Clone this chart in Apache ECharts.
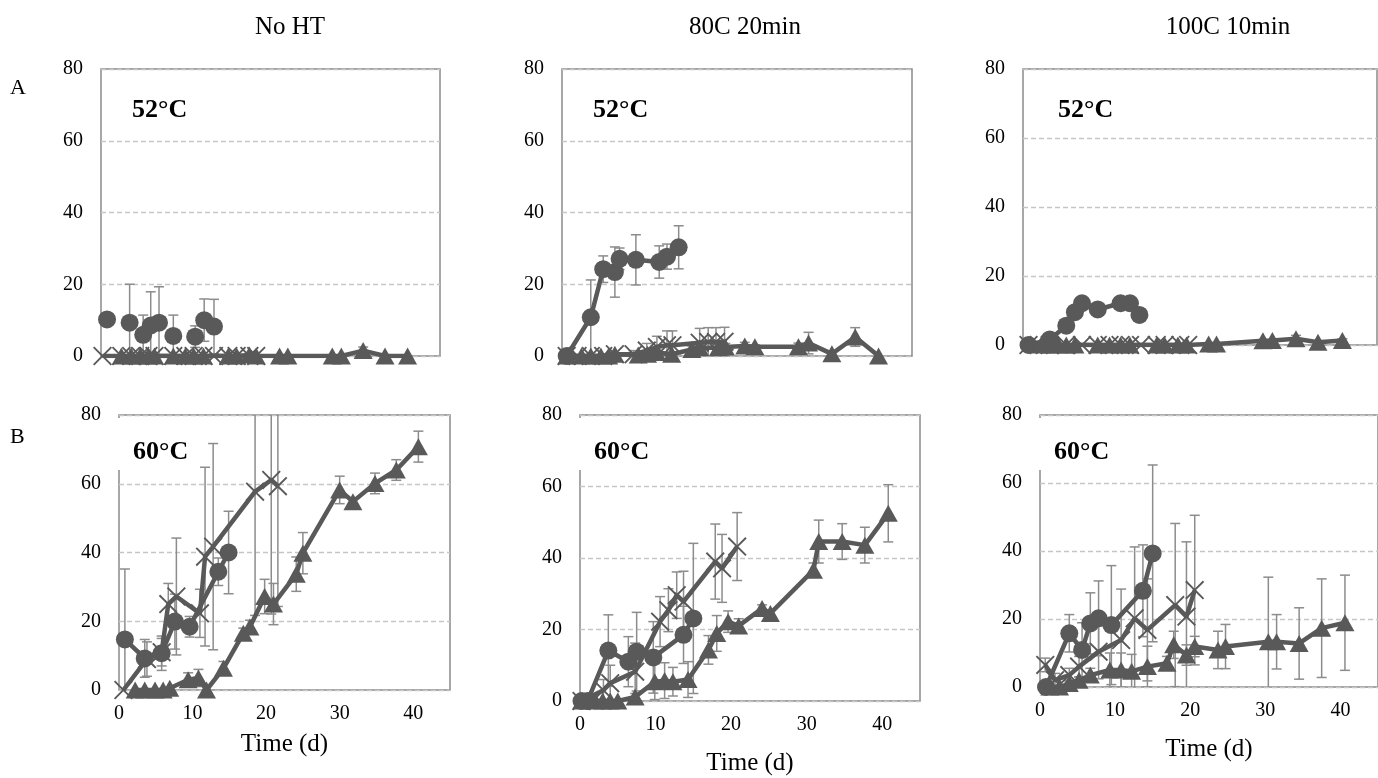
<!DOCTYPE html>
<html>
<head>
<meta charset="utf-8">
<script src="https://cdn.jsdelivr.net/npm/echarts@6/dist/echarts.min.js"></script>
<style>
  html, body { margin: 0; padding: 0; background: #fff; }
  #main { width: 1378px; height: 778px; }
</style>
</head>
<body>
<div id="main"></div>
<script>
// column / row headings
const colTitles = ['No HT', '80C 20min', '100C 10min']
const rowTitles = ['A', 'B']
const tempLabels = ['52°C', '60°C']
const yTicks = [0, 20, 40, 60, 80]
const xTicks = [0, 10, 20, 30, 40]

// ---- row A, No HT ----
const a1CircleDay = [0.8, 3.8, 5.6, 6.6, 7.7, 9.6, 12.5, 13.7, 15]
const a1CircleVal = [10.2, 9.3, 5.9, 8.5, 9.3, 5.6, 5.4, 10, 8.2]
const a1CircleErr = [0, 10.7, 5.5, 9.4, 10, 5.8, 3, 5.9, 7.6]
const a1CrossDay = [0.2, 2.7, 4, 5.2, 6.3, 7.1, 9.6, 11.2, 12.3, 13.6, 15, 16.9, 18, 19.7, 20.6]
const a1CrossVal = [0, 0, 0, 0, 0, 0, 0, 0, 0, 0, 0, 0, 0, 0, 0]
const a1CrossErr = [0, 0, 0, 0, 0, 0, 0, 0, 0, 0, 0, 0, 0, 0, 0]
const a1TriDay = [2.7, 4, 5.2, 6.3, 7.1, 9.6, 11.2, 12.3, 13.6, 16.9, 18, 19.7, 20.6, 23.7, 24.8, 30.7, 31.9, 34.8, 37.7, 40.7]
const a1TriVal = [0, 0, 0, 0, 0, 0, 0, 0, 0, 0, 0, 0.3, 0, 0, 0, 0, 0, 1.5, 0, 0]
const a1TriErr = [0, 0, 0, 0, 0, 0, 0, 0, 0, 0, 0, 0, 0, 0, 0, 0, 0, 1, 0, 0]

// ---- row A, 80C 20min ----
const a2CircleDay = [0.6, 3.7, 5.3, 6.8, 7.4, 9.5, 12.5, 13.5, 15]
const a2CircleVal = [0, 10.8, 24.2, 23.4, 27.1, 26.8, 26.2, 27.7, 30.3]
const a2CircleErr = [0, 10.4, 3.7, 7, 3, 7, 4.5, 3.5, 6]
const a2CrossDay = [0.6, 2, 3.7, 5.3, 6.8, 9.2, 10.9, 12.2, 13.5, 14.2, 17.7, 18.8, 19.8, 20.9]
const a2CrossVal = [0, 0, 0, 0, 0.5, 0.5, 1.5, 2.5, 3, 3, 3.7, 3.9, 3.9, 4]
const a2CrossErr = [0, 0, 0, 0, 0, 1, 2, 3, 4, 4, 4, 4, 4, 4]
const a2TriDay = [0.6, 2.5, 3.7, 5, 6, 6.8, 9.8, 11, 12.2, 14.1, 16.7, 17.7, 20.1, 21, 23.5, 24.8, 30.4, 31.7, 34.7, 37.7, 40.7]
const a2TriVal = [0, 0, 0, 0, 0, 0.5, 0.3, 0.5, 1, 0.5, 1.8, 2.3, 2.3, 2.5, 2.8, 2.6, 2.6, 3.6, 0.6, 5.3, 0]
const a2TriErr = [0, 0, 0, 0, 0, 0, 0, 0, 0, 0, 1, 1, 1, 1, 1, 0.5, 1, 3, 0, 2.6, 0]

// ---- row A, 100C 10min ----
const a3CircleDay = [0.7, 3.4, 5.5, 6.6, 7.5, 9.5, 12.4, 13.6, 14.8]
const a3CircleVal = [0, 1.6, 5.6, 9.5, 12.1, 10.3, 12.1, 12.1, 8.7]
const a3CircleErr = [0, 0, 0, 0, 0, 0, 0, 0, 0]
const a3CrossDay = [0.7, 2, 3.4, 5.5, 7.5, 9.5, 11, 12.4, 13.6, 15, 17, 18, 20, 21]
const a3CrossVal = [0, 0, 0, 0, 0, 0, 0, 0, 0, 0, 0, 0, 0, 0]
const a3CrossErr = [0, 0, 0, 0, 0, 0, 0, 0, 0, 0, 0, 0, 0, 0]
const a3TriDay = [2.3, 3.4, 4.5, 5.5, 6.6, 9.5, 11, 12.4, 13.6, 17, 18, 19.7, 20.8, 23.6, 24.6, 30.5, 31.7, 34.7, 37.5, 40.6]
const a3TriVal = [0, 0, 0, 0, 0, 0, 0, 0, 0, 0, 0, 0, 0, 0.3, 0.3, 1.2, 1.3, 1.8, 0.8, 1.3]
const a3TriErr = [0, 0, 0, 0, 0, 0, 0, 0, 0, 0, 0, 0, 0, 0, 0, 0, 0, 1, 0, 0.5]

// ---- row B, No HT ----
const b1CircleDay = [0.8, 3.5, 5.8, 7.6, 9.6, 13.5, 14.9]
const b1CircleVal = [14.7, 9.2, 10.7, 19.9, 18.4, 34.4, 40]
const b1CircleErr = [20.5, 5.5, 5, 8, 3, 4, 12]
const b1CrossDay = [0.6, 3.8, 5.8, 6.7, 7.8, 11, 11.7, 12.8, 18.5, 20.7, 21.6]
const b1CrossVal = [0, 9, 11, 25, 27.2, 22.3, 38.8, 41.7, 57.7, 61.1, 59.3]
const b1CrossErr = [0, 5, 4, 6, 17, 7, 26, 30, 36, 39, 35]
const b1TriDay = [2.2, 3.5, 4.9, 6, 6.9, 9.4, 10.8, 11.9, 14.2, 16.9, 17.8, 19.8, 21, 24.1, 25, 30, 31.8, 34.8, 37.7, 40.7]
const b1TriVal = [0, 0, 0, 0, 0.5, 3, 3.5, 0, 6.3, 16.5, 18.3, 27.2, 25, 33.7, 39.8, 58.2, 54.8, 60.1, 64, 70.8]
const b1TriErr = [0, 0, 0, 0, 0, 2, 2.5, 0, 2, 1.5, 2, 5, 6, 5, 6, 4, 1, 3, 3, 4.5]

// ---- row B, 80C 20min ----
const b2CircleDay = [0.2, 1, 3.75, 6.4, 7.5, 9.7, 13.7, 15]
const b2CircleVal = [0, 0, 14.1, 11, 13.8, 12.2, 18.5, 23.1]
const b2CircleErr = [0, 0, 10, 7, 11, 10, 8, 21]
const b2CrossDay = [0.2, 3.1, 4, 7.3, 10.6, 11.7, 12.8, 13.7, 17.9, 18.8, 20.8]
const b2CrossVal = [0, 3, 5, 8.2, 22.2, 25.4, 29.6, 27.8, 39, 37.1, 43.2]
const b2CrossErr = [0, 3, 5, 8, 7, 6, 6.5, 8.5, 10.5, 9.5, 9.5]
const b2TriDay = [0.2, 2, 3, 4, 5, 7.3, 9.9, 11.2, 12.3, 14.3, 17, 18.1, 19.6, 21, 24.1, 25.2, 30.9, 31.6, 34.7, 37.7, 40.8]
const b2TriVal = [0, 0, 0, 0, 0, 1.1, 5.4, 5.7, 5.4, 6, 14.3, 18.9, 22.2, 21, 25.9, 24.5, 36.6, 44.6, 44.6, 43.6, 52.5]
const b2TriErr = [0, 0, 0, 0, 0, 1, 5, 5, 4, 5, 4, 5, 3, 2, 1, 1, 2, 6, 5, 5, 8]

// ---- row B, 100C 10min ----
const b3CircleDay = [0.8, 3.9, 5.6, 6.7, 7.8, 9.5, 13.7, 15]
const b3CircleVal = [0, 15.8, 10.9, 18.7, 20.2, 18.2, 28.3, 39.3]
const b3CircleErr = [0, 5.5, 8, 9, 11, 17.5, 13.5, 26]
const b3CrossDay = [0.7, 2, 3.9, 5.2, 7.8, 10.8, 12.6, 14.3, 18, 19.5, 20.6]
const b3CrossVal = [6.5, 2, 3.5, 6, 10.4, 13.8, 20.2, 16.8, 24.1, 20.7, 28.5]
const b3CrossErr = [2, 2, 2, 3, 8, 15, 21, 15, 24, 22, 22]
const b3TriDay = [1.3, 2.6, 3.9, 5.2, 6.7, 9.3, 10.8, 12.2, 14.3, 16.9, 17.8, 19.5, 20.6, 23.7, 24.7, 30.4, 31.5, 34.5, 37.5, 40.6]
const b3TriVal = [0, 0, 1, 2, 3.5, 5, 5, 4.6, 6, 7, 12.4, 9.4, 11.9, 10.9, 11.9, 13.3, 13.3, 12.8, 17.3, 18.9]
const b3TriErr = [0, 0, 1, 1, 2, 5, 5, 5, 6, 2, 4, 3, 3, 5.5, 6.5, 19, 8, 10.5, 14.5, 14]

const panels = [
  { row: 0, col: 0, box: [101, 69, 339, 287], circleLine: false,
    circle: [a1CircleDay, a1CircleVal, a1CircleErr], cross: [a1CrossDay, a1CrossVal, a1CrossErr], tri: [a1TriDay, a1TriVal, a1TriErr] },
  { row: 0, col: 1, box: [562, 69, 350, 287], circleLine: true,
    circle: [a2CircleDay, a2CircleVal, a2CircleErr], cross: [a2CrossDay, a2CrossVal, a2CrossErr], tri: [a2TriDay, a2TriVal, a2TriErr] },
  { row: 0, col: 2, box: [1023, 69, 354, 276], circleLine: true,
    circle: [a3CircleDay, a3CircleVal, a3CircleErr], cross: [a3CrossDay, a3CrossVal, a3CrossErr], tri: [a3TriDay, a3TriVal, a3TriErr] },
  { row: 1, col: 0, box: [119, 415, 331, 275], circleLine: true, nameGap: 42,
    circle: [b1CircleDay, b1CircleVal, b1CircleErr], cross: [b1CrossDay, b1CrossVal, b1CrossErr], tri: [b1TriDay, b1TriVal, b1TriErr] },
  { row: 1, col: 1, box: [580, 415, 340, 286], circleLine: true, nameGap: 50,
    circle: [b2CircleDay, b2CircleVal, b2CircleErr], cross: [b2CrossDay, b2CrossVal, b2CrossErr], tri: [b2TriDay, b2TriVal, b2TriErr] },
  { row: 1, col: 2, box: [1040, 415, 346, 272], circleLine: true, nameGap: 50,
    circle: [b3CircleDay, b3CircleVal, b3CircleErr], cross: [b3CrossDay, b3CrossVal, b3CrossErr], tri: [b3TriDay, b3TriVal, b3TriErr] }
]

const FONT = "'Liberation Serif', 'Times New Roman', serif"
const DARK = '#595959'
const BAR = '#8c8c8c'
// thin filled X shape
const CROSS = 'path://M0,1.4L1.4,0L10,8.6L18.6,0L20,1.4L11.4,10L20,18.6L18.6,20L10,11.4L1.4,20L0,18.6L8.6,10Z'

const chart = echarts.init(document.getElementById('main'))

function errorBars (idx, s) {
  const data = []
  s[0].forEach((d, k) => {
    if (s[2][k] > 0) data.push([d, s[1][k] - s[2][k], s[1][k] + s[2][k]])
  })
  return {
    type: 'custom',
    xAxisIndex: idx,
    yAxisIndex: idx,
    clip: true,
    z: 1,
    silent: true,
    encode: { x: 0, y: [1, 2] },
    data: data,
    renderItem: function (params, api) {
      const lo = api.coord([api.value(0), api.value(1)])
      const hi = api.coord([api.value(0), api.value(2)])
      const w = 5
      const st = { stroke: BAR, lineWidth: 1.5 }
      return {
        type: 'group',
        children: [
          { type: 'line', shape: { x1: lo[0], y1: lo[1], x2: hi[0], y2: hi[1] }, style: st },
          { type: 'line', shape: { x1: hi[0] - w, y1: hi[1], x2: hi[0] + w, y2: hi[1] }, style: st },
          { type: 'line', shape: { x1: lo[0] - w, y1: lo[1], x2: lo[0] + w, y2: lo[1] }, style: st }
        ]
      }
    }
  }
}

function lineSeries (idx, s, symbol, size, z, withLine) {
  return {
    type: 'line',
    xAxisIndex: idx,
    yAxisIndex: idx,
    data: s[0].map((d, k) => [d, s[1][k]]),
    symbol: symbol,
    symbolSize: size,
    showAllSymbol: true,
    z: z,
    itemStyle: { color: DARK, borderWidth: 0 },
    lineStyle: { color: DARK, width: withLine ? 4.5 : 0 },
    emphasis: { disabled: true }
  }
}

const grids = []
const xAxes = []
const yAxes = []
const series = []

panels.forEach((p, i) => {
  grids.push({
    left: p.box[0], top: p.box[1], width: p.box[2], height: p.box[3],
    show: true, borderColor: '#8a8a8a', borderWidth: 1.5, containLabel: false
  })
  xAxes.push({
    gridIndex: i,
    type: 'value',
    min: 0,
    max: 45,
    interval: 10,
    axisLine: { show: false },
    axisTick: { show: false },
    splitLine: { show: false },
    axisLabel: { show: p.row === 1, showMaxLabel: false, fontFamily: FONT, fontSize: 20, color: '#000', margin: 14 },
    name: p.row === 1 ? 'Time (d)' : '',
    nameLocation: 'middle',
    nameGap: p.nameGap || 50,
    nameTextStyle: { fontFamily: FONT, fontSize: 25, color: '#000' }
  })
  yAxes.push({
    gridIndex: i,
    type: 'value',
    min: 0,
    max: 80,
    interval: 20,
    axisLine: { show: false },
    axisTick: { show: false },
    splitLine: { show: true, lineStyle: { color: '#c6c6c6', width: 1.3, type: [5, 3] } },
    axisLabel: { fontFamily: FONT, fontSize: 20, color: '#000', margin: 18 }
  })
  series.push(errorBars(i, p.circle), errorBars(i, p.cross), errorBars(i, p.tri))
  series.push(lineSeries(i, p.circle, 'circle', 18, 3, p.circleLine))
  series.push(lineSeries(i, p.cross, CROSS, 19, 4, true))
  series.push(lineSeries(i, p.tri, 'triangle', [19, 17], 5, true))
})

const texts = []
const colCenters = [290, 745, 1228]
colTitles.forEach((t, k) => {
  texts.push({ type: 'text', x: colCenters[k], y: 27,
    style: { text: t, font: '25px ' + FONT, fill: '#000', textAlign: 'center', textVerticalAlign: 'middle' } })
})
const rowY = [88, 437]
rowTitles.forEach((t, k) => {
  texts.push({ type: 'text', x: 10, y: rowY[k],
    style: { text: t, font: '22px ' + FONT, fill: '#000', textAlign: 'left', textVerticalAlign: 'middle' } })
})
panels.forEach(p => {
  const lx = p.row === 0 ? p.box[0] + 31 + (p.col === 2 ? 4 : 0) : p.box[0] + 14 + (p.col === 2 ? 0 : 0)
  texts.push({ type: 'text', x: lx, y: p.box[1] + (p.row === 0 ? 41 : 37),
    style: { text: tempLabels[p.row], font: 'bold 26px ' + FONT, fill: '#000', textAlign: 'left', textVerticalAlign: 'middle' } })
  // the label box hides the top of the left border in row B
  if (p.row === 1) {
    texts.push({ type: 'rect', z: 100, shape: { x: p.box[0] - 2, y: p.box[1] + 3, width: 4, height: 52 },
      style: { fill: '#fff' } })
  }
})

const option = {
  animation: false,
  backgroundColor: '#fff',
  grid: grids,
  xAxis: xAxes,
  yAxis: yAxes,
  series: series,
  graphic: texts
}

option && chart.setOption(option)
</script>
</body>
</html>
